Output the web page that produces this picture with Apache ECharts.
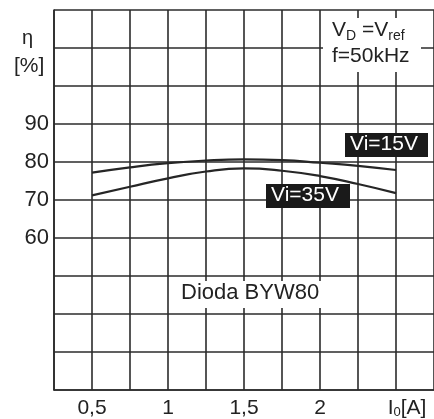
<!DOCTYPE html>
<html>
<head>
<meta charset="utf-8">
<script src="https://cdn.jsdelivr.net/npm/echarts@6/dist/echarts.min.js"></script>
<style>
html,body{margin:0;padding:0;background:#fff;}
#chart{width:434px;height:419px;}
</style>
</head>
<body>
<div id="chart"></div>
<script>
// Data
var currentA = [0.5, 0.75, 1.0, 1.25, 1.5, 1.75, 2.0, 2.25, 2.5];
var effVi15 = [77.2, 78.6, 79.7, 80.4, 80.7, 80.5, 79.8, 79.0, 77.9];
var effVi35 = [71.2, 73.5, 75.7, 77.5, 78.3, 77.7, 76.3, 74.2, 71.8];
var seriesNames = ['Vi=15V', 'Vi=35V'];
var yTickLabels = {60: '60', 70: '70', 80: '80', 90: '90'};
var xTickLabels = {'0.5': '0,5', '1': '1', '1.5': '1,5', '2': '2'};

var FONT = '"Liberation Sans", Arial, sans-serif';
var INK = '#222';
var GRIDC = '#2b2b2b';

var chart = echarts.init(document.getElementById('chart'), null, {renderer: 'canvas'});

function pairs(xs, ys) { return xs.map(function (x, i) { return [x, ys[i]]; }); }

var option = {
  backgroundColor: '#fff',
  animation: false,
  grid: {left: 54, right: -3, top: 10, bottom: 28, containLabel: false},
  xAxis: {
    type: 'value', min: 0.25, max: 2.75, interval: 0.25,
    axisLine: {show: true, lineStyle: {color: GRIDC, width: 1.6}},
    axisTick: {show: false},
    splitLine: {show: true, lineStyle: {color: GRIDC, width: 1.6}},
    axisLabel: {
      margin: 8, color: INK, fontFamily: FONT, fontSize: 21,
      showMinLabel: false, showMaxLabel: false,
      formatter: function (v) {
        var k = String(Math.round(v * 100) / 100);
        if (xTickLabels[k]) return xTickLabels[k];
        if (Math.abs(v - 2.5) < 1e-6) return '{p|I}{s|0}{a|[A]}';
        return '';
      },
      rich: {
        p: {fontFamily: FONT, fontSize: 21, color: INK, padding: [0, 0, 0, 22]},
        a: {fontFamily: FONT, fontSize: 21, color: INK},
        s: {fontFamily: FONT, fontSize: 13, color: INK, verticalAlign: 'bottom', padding: [8, 0, 0, 0]}
      }
    }
  },
  yAxis: {
    type: 'value', min: 20, max: 120, interval: 10,
    axisLine: {show: true, lineStyle: {color: GRIDC, width: 1.6}},
    axisTick: {show: false},
    splitLine: {show: true, lineStyle: {color: GRIDC, width: 1.6}},
    axisLabel: {
      margin: 5, color: INK, fontFamily: FONT, fontSize: 22,
      formatter: function (v) { return yTickLabels[Math.round(v)] || ''; }
    }
  },
  series: [
    {
      name: seriesNames[0], type: 'line', smooth: true, symbol: 'none',
      lineStyle: {color: '#262626', width: 2.2},
      data: pairs(currentA, effVi15), z: 5
    },
    {
      name: seriesNames[1], type: 'line', smooth: true, symbol: 'none',
      lineStyle: {color: '#262626', width: 2.2},
      data: pairs(currentA, effVi35), z: 5
    }
  ],
  graphic: [
    // eta [%] axis title
    {type: 'text', left: 22, top: 28, style: {text: 'η', font: '20px ' + FONT, fill: INK}},
    {type: 'text', left: 14, top: 56, style: {text: '[%]', font: '21px ' + FONT, fill: INK}},
    // V_D = V_ref / f = 50kHz box
    {type: 'rect', shape: {x: 323, y: 18, width: 98, height: 54}, style: {fill: '#fff'}, z: 10},
    {
      type: 'text', left: 332, top: 20, z: 11,
      style: {
        text: '{n|V}{s|D}{n| =V}{s|ref}\n{n|f=50kHz}',
        fill: INK,
        rich: {
          n: {fontFamily: FONT, fontSize: 21, fill: INK, lineHeight: 26},
          s: {fontFamily: FONT, fontSize: 14, fill: INK, verticalAlign: 'bottom', lineHeight: 20}
        }
      }
    },
    // Dioda box
    {type: 'rect', shape: {x: 172, y: 281, width: 150, height: 27}, style: {fill: '#fff'}, z: 10},
    {type: 'text', left: 181, top: 282, z: 11, style: {text: 'Dioda BYW80', font: '22px ' + FONT, fill: INK}},
    // series labels
    {
      type: 'text', left: 345, top: 133, z: 11,
      style: {text: seriesNames[0], font: '21px ' + FONT, fill: '#fff', backgroundColor: '#1a1a1a', padding: [1, 5, 1, 5], width: 73, height: 22, align: 'left'}
    },
    {
      type: 'text', left: 266, top: 184, z: 11,
      style: {text: seriesNames[1], font: '21px ' + FONT, fill: '#fff', backgroundColor: '#1a1a1a', padding: [1, 5, 1, 5], width: 74, height: 22, align: 'left'}
    }
  ]
};
chart.setOption(option);
</script>
</body>
</html>
